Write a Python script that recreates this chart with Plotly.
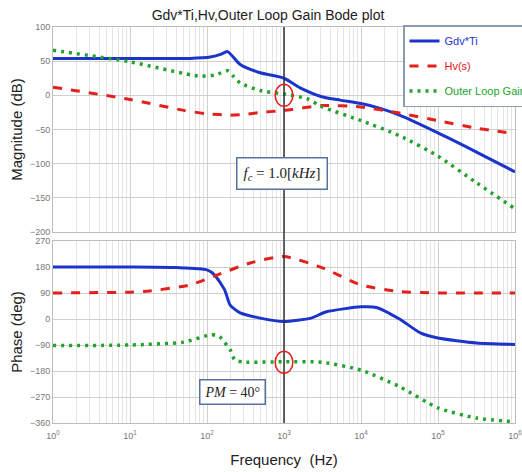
import plotly.graph_objects as go

# ---------------- data ----------------
freq_gdv_mag = [1, 10, 60, 110, 150, 185, 270, 490, 1000, 1620, 3100, 5370, 10000, 17800, 31623, 100000, 316228, 1000000]
mag_gdv = [54, 54, 54, 56, 60, 64, 45, 33, 25, 11, -2, -7, -12, -19, -29, -55, -83, -112]

freq_hv_mag = [1, 10, 50, 100, 200, 300, 500, 1000, 3162, 10000, 31623, 100000, 316228, 1000000]
mag_hv = [12, -6, -22, -27, -29, -28, -25, -22, -15, -17, -26, -37, -48, -56]

freq_ol_mag = [1, 10, 80, 130, 185, 220, 270, 490, 1000, 2000, 3162, 10000, 31623, 100000, 316228, 1000000]
mag_ol = [66, 49, 28, 30, 36, 28, 18, 7, 2, -5, -17, -37, -59, -89, -128, -166]

freq_gdv_ph = [1, 10, 40, 100, 126, 170, 200, 270, 490, 1000, 2240, 3550, 10000, 15800, 31600, 59000, 100000, 316000, 1000000]
ph_gdv = [180, 180, 178, 170, 152, 100, 48, 21, 3, -9, 3, 25, 42, 40, 0, -48, -66, -83, -88]

freq_hv_ph = [1, 10, 18, 60, 147, 363, 1000, 3162, 10000, 31623, 100000, 1000000]
ph_hv = [90, 93, 97, 118, 156, 194, 216, 177, 118, 95, 90, 90]

freq_ol_ph = [1, 10, 50, 110, 130, 147, 200, 230, 300, 1000, 3162, 10000, 31623, 100000, 316228, 1000000]
ph_ol = [-92, -90, -80, -55, -56, -62, -107, -142, -149, -148, -150, -177, -234, -308, -343, -356]

x_tickvals = [1, 10, 100, 1000, 10000, 100000, 1000000]
x_ticktext = ["10<sup>0</sup>", "10<sup>1</sup>", "10<sup>2</sup>", "10<sup>3</sup>",
              "10<sup>4</sup>", "10<sup>5</sup>", "10<sup>6</sup>"]
mag_ticks = [100, 50, 0, -50, -100, -150, -200]
ph_ticks = [270, 180, 90, 0, -90, -180, -270, -360]

crossover_freq = 1000
crossover_mag = 0
crossover_phase = -150

BLUE = "#1b35cc"
RED = "#e3201c"
GREEN = "#22a22a"

fig = go.Figure()
fig.add_trace(go.Scatter(x=freq_gdv_mag, y=mag_gdv, mode="lines", xaxis="x", yaxis="y",
                         line=dict(color=BLUE, width=3, shape="spline", smoothing=0.6),
                         name='<span style="color:%s">Gdv*Ti</span>' % BLUE, legendgroup="a"))
fig.add_trace(go.Scatter(x=freq_hv_mag, y=mag_hv, mode="lines", xaxis="x", yaxis="y",
                         line=dict(color=RED, width=3, dash="dash", shape="spline", smoothing=0.6),
                         name='<span style="color:%s">Hv(s)</span>' % RED, legendgroup="b"))
fig.add_trace(go.Scatter(x=freq_ol_mag, y=mag_ol, mode="lines", xaxis="x", yaxis="y",
                         line=dict(color=GREEN, width=3.5, dash="3px,5px", shape="spline", smoothing=0.6),
                         name='<span style="color:%s">Outer Loop Gain</span>' % GREEN, legendgroup="c"))
fig.add_trace(go.Scatter(x=freq_gdv_ph, y=ph_gdv, mode="lines", xaxis="x2", yaxis="y2",
                         line=dict(color=BLUE, width=3, shape="spline", smoothing=0.6), showlegend=False))
fig.add_trace(go.Scatter(x=freq_hv_ph, y=ph_hv, mode="lines", xaxis="x2", yaxis="y2",
                         line=dict(color=RED, width=3, dash="dash", shape="spline", smoothing=0.6), showlegend=False))
fig.add_trace(go.Scatter(x=freq_ol_ph, y=ph_ol, mode="lines", xaxis="x2", yaxis="y2",
                         line=dict(color=GREEN, width=3.5, dash="3px,5px", shape="spline", smoothing=0.6), showlegend=False))

tickfont = dict(family="Liberation Sans", size=9, color="#777777")
common_x = dict(type="log", range=[0, 6], showgrid=True, gridcolor="#cfcfcf", automargin=False,
                minor=dict(dtick="D1", showgrid=True, gridcolor="#e4e4e4", ticklen=0),
                showline=True, linecolor="#bdbdbd", mirror=True, zeroline=False,
                tickvals=x_tickvals, ticktext=x_ticktext, tickfont=tickfont, ticks="",
                ticklabeloverflow="allow")

fig.update_layout(
    width=522, height=472,
    margin=dict(l=53, r=7, t=27, b=49, autoexpand=False),
    paper_bgcolor="white", plot_bgcolor="white",
    font=dict(family="Liberation Sans", color="#222222"),
    title=dict(text="Gdv*Ti,Hv,Outer Loop Gain Bode plot", x=268 / 522, xanchor="center",
               y=1 - 15 / 472, yanchor="middle", font=dict(size=14, color="#222222")),
    xaxis=dict(common_x, domain=[0, 1], anchor="y", showticklabels=False),
    xaxis2=dict(common_x, domain=[0, 1], anchor="y2", ticklabelstandoff=4,
                title=dict(text="Frequency  (Hz)", font=dict(size=15, color="#222222"), standoff=14)),
    yaxis=dict(domain=[191 / 396, 1], range=[-200, 100], tickvals=mag_ticks, automargin=False,
               showgrid=True, gridcolor="#cfcfcf", zeroline=False, showline=True,
               linecolor="#bdbdbd", mirror=True, tickfont=tickfont, ticks="",
               title=dict(text="Magnitude (dB)", font=dict(size=15, color="#222222"), standoff=3)),
    yaxis2=dict(domain=[0, 182 / 396], range=[-360, 270], tickvals=ph_ticks, automargin=False,
                showgrid=True, gridcolor="#cfcfcf", zeroline=False, showline=True,
                linecolor="#bdbdbd", mirror=True, tickfont=tickfont, ticks="",
                title=dict(text="Phase (deg)", font=dict(size=15, color="#222222"), standoff=3)),
    legend=dict(x=(403 - 53) / 462, y=(423 - 25) / 396, xanchor="left", yanchor="top",
                bgcolor="white", bordercolor="#8a9ab4", borderwidth=1.5,
                font=dict(family="Liberation Sans", size=11),
                traceorder="grouped", tracegroupgap=6),
    showlegend=True,
)

# vertical crossover line spanning both plots
fig.add_shape(type="line", xref="x", yref="paper", x0=crossover_freq, x1=crossover_freq, y0=0, y1=1,
              line=dict(color="#333333", width=1.5))
# red circles (half-width in decades on the log axis)
half_w = 0.115
fig.add_shape(type="circle", xref="x", yref="y", ysizemode="pixel",
              x0=crossover_freq * 10 ** -half_w, x1=crossover_freq * 10 ** half_w,
              yanchor=crossover_mag, y0=-11, y1=11,
              line=dict(color=RED, width=1.5))
fig.add_shape(type="circle", xref="x2", yref="y2", ysizemode="pixel",
              x0=crossover_freq * 10 ** -half_w, x1=crossover_freq * 10 ** half_w,
              yanchor=crossover_phase, y0=-11, y1=11,
              line=dict(color=RED, width=1.5))

fig.add_annotation(xref="paper", yref="paper", x=(282 - 53) / 462, y=(423 - 157) / 396,
                   text="<i>f</i><sub><i>c</i></sub> = 1.0[<i>kHz</i>]", showarrow=False,
                   font=dict(family="Liberation Serif", size=15, color="#222222"),
                   bgcolor="white", bordercolor="#55739c", borderwidth=1.5, borderpad=6)
fig.add_annotation(xref="paper", yref="paper", x=(232 - 53) / 462, y=(423 - 405) / 396,
                   text="<i>PM</i> = 40°", showarrow=False,
                   font=dict(family="Liberation Serif", size=14, color="#222222"),
                   bgcolor="white", bordercolor="#55739c", borderwidth=1.5, borderpad=4)

fig.write_html("out.html", config={"displayModeBar": False},
               post_script="document.body.style.margin='0';document.body.style.overflow='hidden';")
